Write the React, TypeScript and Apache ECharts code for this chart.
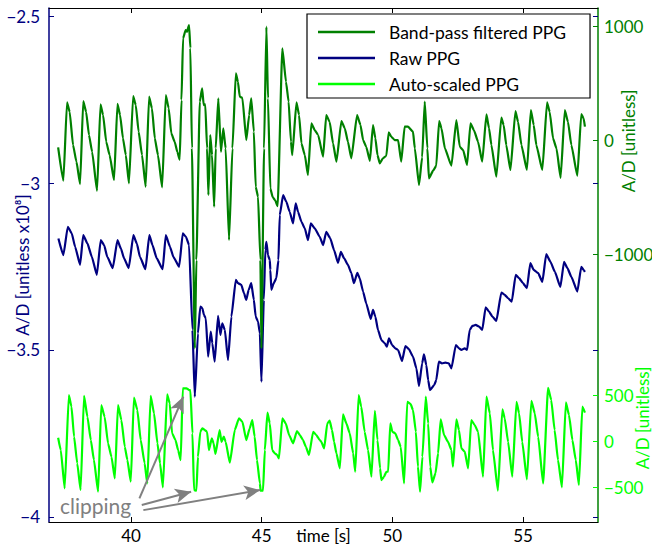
import React, { useEffect, useRef } from "react";
import * as echarts from "echarts";

// ---- data (time in s) ----
const bandTime = [37.21,37.41,37.55,37.65,37.78,37.91,38.05,38.17,38.28,38.39,38.51,38.70,38.83,38.93,39.05,39.18,39.35,39.48,39.58,39.69,39.80,39.92,40.08,40.18,40.29,40.42,40.56,40.69,40.80,40.91,41.03,41.19,41.33,41.44,41.54,41.67,41.77,41.86,41.93,41.99,42.09,42.14,42.22,42.27,42.33,42.44,42.50,42.63,42.72,42.78,42.84,42.91,42.96,43.03,43.10,43.18,43.24,43.34,43.44,43.53,43.62,43.75,43.88,44.01,44.09,44.16,44.26,44.41,44.52,44.60,44.70,44.77,44.86,44.95,44.99,45.09,45.18,45.24,45.33,45.42,45.51,45.61,45.79,45.93,46.03,46.12,46.17,46.33,46.43,46.52,46.65,46.77,46.90,47.03,47.16,47.35,47.47,47.60,47.73,47.86,48.05,48.18,48.30,48.43,48.65,48.78,48.88,49.00,49.14,49.26,49.35,49.43,49.52,49.64,49.77,49.86,49.96,50.09,50.22,50.34,50.47,50.60,50.79,50.86,51.02,51.14,51.24,51.34,51.40,51.56,51.68,51.79,51.88,52.01,52.26,52.45,52.58,52.71,52.86,52.99,53.12,53.28,53.44,53.60,53.70,53.79,53.98,54.17,54.26,54.36,54.52,54.71,54.81,54.94,55.15,55.30,55.41,55.51,55.74,55.92,56.02,56.15,56.28,56.44,56.60,56.72,56.85,57.08,57.23,57.32,57.37];
const bandValues = [-64,-357,331,248,-44,-190,-386,342,248,44,-103,-445,313,219,-15,-132,-351,318,219,15,-132,-380,386,307,73,-132,-410,380,278,15,-132,-415,395,278,59,-15,-103,-173,351,892,965,950,1009,807,-70,-1827,-1052,336,453,307,313,-73,-482,44,-132,-585,-73,366,-103,103,-73,-877,-73,585,511,380,371,0,219,366,73,-410,-497,-1052,-1827,-73,994,366,-424,-500,-526,-579,804,511,336,-15,-132,331,219,-29,-132,-307,146,88,44,-146,219,160,-29,-190,167,103,-15,-160,219,132,0,-59,-182,132,15,-132,-204,-160,-138,68,29,0,0,-190,117,117,73,-73,-395,-152,336,-73,-336,-269,-225,167,103,-73,-225,175,-59,-88,-219,146,88,-15,-190,225,103,-44,-322,196,132,-44,-263,254,160,-44,-263,263,132,-44,-263,331,248,15,-73,-331,263,160,-44,-313,228,190,117];

const rawTime = [37.22,37.41,37.58,37.73,37.86,38.05,38.17,38.33,38.50,38.69,38.84,38.97,39.09,39.30,39.48,39.61,39.73,39.91,40.09,40.22,40.34,40.55,40.70,40.82,40.98,41.21,41.33,41.49,41.62,41.84,41.98,42.10,42.22,42.35,42.44,42.56,42.65,42.73,42.79,42.86,42.95,43.05,43.11,43.20,43.33,43.42,43.49,43.59,43.71,43.84,44.01,44.09,44.22,44.32,44.41,44.50,44.60,44.70,44.77,44.86,44.93,44.99,45.08,45.14,45.18,45.24,45.31,45.33,45.37,45.46,45.56,45.64,45.69,45.82,45.94,46.07,46.20,46.30,46.39,46.52,46.65,46.77,46.88,47.03,47.22,47.35,47.47,47.62,47.77,47.92,48.03,48.15,48.30,48.43,48.53,48.66,48.75,48.88,49.00,49.17,49.26,49.35,49.45,49.58,49.71,49.79,49.87,49.99,50.11,50.22,50.37,50.50,50.63,50.79,50.92,51.02,51.14,51.21,51.30,51.37,51.44,51.60,51.68,51.78,51.90,52.03,52.16,52.26,52.43,52.55,52.64,52.77,52.86,52.96,53.06,53.19,53.32,53.44,53.57,53.70,53.83,53.98,54.17,54.30,54.43,54.57,54.72,54.85,55.00,55.15,55.28,55.41,55.58,55.74,55.89,56.05,56.22,56.43,56.57,56.70,56.85,57.08,57.23,57.32,57.37];
const rawValues = [-3.166,-3.216,-3.131,-3.151,-3.191,-3.245,-3.156,-3.181,-3.221,-3.275,-3.171,-3.186,-3.221,-3.255,-3.171,-3.196,-3.225,-3.255,-3.156,-3.181,-3.221,-3.258,-3.156,-3.186,-3.225,-3.258,-3.156,-3.191,-3.221,-3.251,-3.151,-3.161,-3.186,-3.440,-3.640,-3.450,-3.370,-3.375,-3.395,-3.405,-3.520,-3.445,-3.480,-3.535,-3.398,-3.455,-3.420,-3.440,-3.530,-3.400,-3.290,-3.300,-3.305,-3.330,-3.350,-3.320,-3.300,-3.350,-3.400,-3.415,-3.450,-3.595,-3.350,-3.200,-3.176,-3.216,-3.231,-3.260,-3.320,-3.300,-3.285,-3.231,-3.096,-3.036,-3.056,-3.086,-3.121,-3.061,-3.086,-3.116,-3.136,-3.171,-3.121,-3.136,-3.161,-3.186,-3.146,-3.165,-3.201,-3.239,-3.206,-3.225,-3.245,-3.270,-3.300,-3.269,-3.285,-3.325,-3.360,-3.407,-3.380,-3.400,-3.440,-3.470,-3.480,-3.490,-3.465,-3.485,-3.495,-3.500,-3.533,-3.488,-3.497,-3.520,-3.555,-3.608,-3.540,-3.513,-3.545,-3.590,-3.620,-3.605,-3.590,-3.535,-3.540,-3.538,-3.540,-3.555,-3.485,-3.495,-3.500,-3.495,-3.500,-3.440,-3.428,-3.425,-3.430,-3.440,-3.372,-3.385,-3.400,-3.413,-3.328,-3.335,-3.345,-3.355,-3.275,-3.285,-3.300,-3.315,-3.240,-3.260,-3.270,-3.296,-3.213,-3.236,-3.266,-3.311,-3.236,-3.255,-3.281,-3.325,-3.251,-3.260,-3.266];

const autoTime = [37.21,37.31,37.46,37.62,37.72,37.82,37.94,38.07,38.20,38.33,38.46,38.58,38.74,38.86,38.99,39.12,39.25,39.38,39.50,39.63,39.76,39.86,39.99,40.11,40.24,40.37,40.52,40.62,40.75,40.88,41.01,41.11,41.22,41.38,41.48,41.57,41.70,41.80,41.90,41.98,42.12,42.22,42.27,42.35,42.41,42.50,42.56,42.65,42.73,42.82,42.91,42.98,43.09,43.16,43.23,43.39,43.46,43.55,43.62,43.78,43.97,44.13,44.26,44.41,44.54,44.64,44.73,44.82,44.93,44.96,45.05,45.12,45.22,45.31,45.40,45.50,45.59,45.66,45.79,45.92,46.05,46.20,46.35,46.46,46.58,46.69,46.81,46.97,47.09,47.22,47.28,47.39,47.51,47.60,47.69,47.77,47.86,47.99,48.11,48.24,48.37,48.50,48.58,48.71,48.81,48.94,49.07,49.20,49.33,49.43,49.53,49.58,49.68,49.77,49.84,49.92,50.00,50.11,50.22,50.32,50.45,50.57,50.70,50.79,50.90,50.98,51.06,51.15,51.28,51.37,51.45,51.53,51.65,51.75,51.85,51.98,52.13,52.26,52.32,52.45,52.55,52.64,52.77,52.90,53.02,53.15,53.28,53.47,53.60,53.73,53.85,54.04,54.21,54.30,54.43,54.59,54.75,54.85,54.97,55.15,55.32,55.45,55.58,55.77,55.96,56.08,56.21,56.34,56.49,56.64,56.76,56.89,57.02,57.14,57.27,57.37];
const autoValues = [36,-98,-514,500,373,47,-242,-533,492,264,11,-207,-551,391,264,-25,-171,-405,391,228,-62,-207,-442,471,337,11,-242,-460,492,301,-25,-242,-503,508,410,84,11,-98,-207,573,573,554,554,84,-533,-540,-171,101,138,120,101,-98,29,-25,-141,120,-8,47,-8,-236,120,247,210,11,138,228,47,-207,-460,-540,-540,-98,308,192,-98,-134,-152,-188,247,192,65,-25,109,65,11,-62,-152,101,65,11,-8,-79,192,221,120,-8,-134,-297,290,192,84,-134,-334,500,373,101,-98,-388,329,11,-297,-424,-388,-334,-334,192,101,84,11,-62,-460,427,402,337,101,-279,-551,-171,482,192,-279,-449,-351,-134,236,65,-8,-98,-279,236,120,-79,-116,-297,228,174,101,-388,482,301,-98,-540,345,247,-8,-388,427,301,-8,-416,438,301,47,-460,579,446,120,-207,-503,421,283,11,-207,-478,373,308];

const xTicks = [40, 45, 50, 55];
const leftTicks = [-4, -3.5, -3, -2.5];
const bandTicks = [-1000, 0, 1000];
const autoTicks = [-500, 0, 500];

// clipping annotation arrows on the auto-scaled axis: start and end points
const arrowStarts = [[40.32, -623], [40.41, -696], [40.47, -751]];
const arrowEnds = [[42.0, 482], [42.3, -551], [44.94, -533]];

const NAVY = "#000080";
const DGREEN = "#008000";
const BGREEN = "#00ff00";
const FONT = "Lato";

const zip = (a: number[], b: number[]) => a.map((v, i) => [v, b[i]]);
const minus = (v: number) => String(v).replace("-", "\u2212");

export default function App() {
  const ref = useRef<HTMLDivElement>(null);
  useEffect(() => {
    if (!ref.current) return;
    const chart = echarts.init(ref.current, undefined, { renderer: "svg" });
    const xRange = { min: 36.86, max: 57.87 };
    const leftRange = { min: -4.015, max: -2.476 };
    const lineCommon = { symbol: "none", smooth: 0.15, smoothMonotone: "x" };
    chart.setOption({
      animation: false,
      textStyle: { fontFamily: FONT },
      grid: { left: 49, right: 54, top: 8, bottom: 24, containLabel: false, outerBoundsMode: "none" },
      legend: {
        orient: "vertical",
        left: 307,
        top: 14,
        padding: [9, 24, 5, 11],
        icon: "rect",
        itemWidth: 57,
        itemHeight: 2.5,
        itemGap: 8,
        borderColor: "#000",
        borderWidth: 1.2,
        backgroundColor: "#fff",
        data: ["Band-pass filtered PPG", "Raw PPG", "Auto-scaled PPG"],
        textStyle: { fontSize: 17.5, color: "#000", fontFamily: FONT, padding: [0, 0, 0, 9], lineHeight: 18 },
      },
      xAxis: [
        {
          type: "value",
          ...xRange,
          position: "bottom",
          name: "time [s]",
          nameLocation: "middle",
          nameGap: 5,
          nameMoveOverlap: false,
          nameTextStyle: { fontSize: 17, color: "#000", fontFamily: FONT, verticalAlign: "top" },
          axisLine: { show: true, onZero: false, lineStyle: { color: "#000", width: 1 } },
          axisTick: { inside: true, length: 5, customValues: xTicks, lineStyle: { color: "#000" } },
          axisLabel: { customValues: xTicks, margin: 5, fontSize: 17, color: "#000", fontFamily: FONT },
          splitLine: { show: false },
        },
        {
          type: "value",
          ...xRange,
          position: "top",
          axisLine: { show: true, onZero: false, lineStyle: { color: "#000", width: 1 } },
          axisTick: { inside: true, length: 5, customValues: xTicks, lineStyle: { color: "#000" } },
          axisLabel: { show: false },
          splitLine: { show: false },
        },
      ],
      yAxis: [
        {
          type: "value",
          ...leftRange,
          position: "left",
          name: "A/D [unitless x10\u2078]",
          nameLocation: "middle",
          nameGap: 18,
          nameMoveOverlap: false,
          nameTextStyle: { fontSize: 17, color: NAVY, fontFamily: FONT },
          axisLine: { show: true, onZero: false, lineStyle: { color: NAVY, width: 1.5 } },
          axisTick: { inside: true, length: 5, customValues: leftTicks, lineStyle: { color: NAVY } },
          axisLabel: { customValues: leftTicks, margin: 9, fontSize: 17, color: NAVY, fontFamily: FONT, formatter: (v: number) => minus(v) },
          splitLine: { show: false },
        },
        {
          type: "value",
          min: -3350,
          max: 1158,
          position: "right",
          axisLine: { show: true, onZero: false, lineStyle: { color: DGREEN, width: 1.5 } },
          axisTick: { inside: true, length: 5, customValues: bandTicks, lineStyle: { color: DGREEN } },
          axisLabel: { customValues: bandTicks, margin: 6, fontSize: 17, color: DGREEN, fontFamily: FONT, formatter: (v: number) => minus(v) },
          splitLine: { show: false },
        },
        {
          type: "value",
          min: -880,
          max: 4707,
          position: "right",
          axisLine: { show: false, onZero: false },
          axisTick: { inside: true, length: 5, customValues: autoTicks, lineStyle: { color: BGREEN } },
          axisLabel: { customValues: autoTicks, margin: 6, fontSize: 17, color: BGREEN, fontFamily: FONT, formatter: (v: number) => minus(v) },
          splitLine: { show: false },
        },
        {
          type: "value",
          ...leftRange,
          position: "right",
          axisLine: { show: false, onZero: false },
          axisTick: { inside: true, length: 5, customValues: leftTicks, lineStyle: { color: NAVY } },
          axisLabel: { show: false },
          splitLine: { show: false },
        },
      ],
      series: [
        {
          name: "Raw PPG",
          type: "line",
          xAxisIndex: 0,
          yAxisIndex: 0,
          data: zip(rawTime, rawValues),
          ...lineCommon,
          lineStyle: { color: NAVY, width: 2.2 },
          itemStyle: { color: NAVY },
        },
        {
          name: "Band-pass filtered PPG",
          type: "line",
          xAxisIndex: 0,
          yAxisIndex: 1,
          data: zip(bandTime, bandValues),
          ...lineCommon,
          lineStyle: { color: DGREEN, width: 2.2 },
          itemStyle: { color: DGREEN },
        },
        {
          name: "Auto-scaled PPG",
          type: "line",
          xAxisIndex: 0,
          yAxisIndex: 2,
          data: zip(autoTime, autoValues),
          ...lineCommon,
          lineStyle: { color: BGREEN, width: 2.2 },
          itemStyle: { color: BGREEN },
          markLine: {
            silent: true,
            symbol: ["none", "arrow"],
            symbolSize: [11, 16],
            label: { show: false },
            lineStyle: { color: "#808080", width: 2, type: "solid" },
            emphasis: { disabled: true },
            data: arrowStarts.map((s, i) => [{ coord: s }, { coord: arrowEnds[i] }]),
          },
        },
      ],
      graphic: [
        {
          type: "text",
          x: 60,
          y: 505,
          style: { text: "clipping", fill: "#808080", fontSize: 21, fontFamily: FONT, align: "left", verticalAlign: "middle", textAlign: "left", textVerticalAlign: "middle" },
        },
        {
          type: "text",
          x: 628,
          y: 141,
          rotation: Math.PI / 2,
          style: { text: "A/D [unitless]", fill: DGREEN, fontSize: 17, fontFamily: FONT, align: "center", verticalAlign: "middle", textAlign: "center", textVerticalAlign: "middle" },
        },
        {
          type: "text",
          x: 642,
          y: 418,
          rotation: Math.PI / 2,
          style: { text: "A/D [unitless]", fill: BGREEN, fontSize: 17, fontFamily: FONT, align: "center", verticalAlign: "middle", textAlign: "center", textVerticalAlign: "middle" },
        },
      ],
    });
    return () => chart.dispose();
  }, []);
  return (
    <div
      ref={ref}
      style={{ position: "fixed", left: 0, top: 0, width: 652, height: 546, background: "#fff" }}
    />
  );
}
